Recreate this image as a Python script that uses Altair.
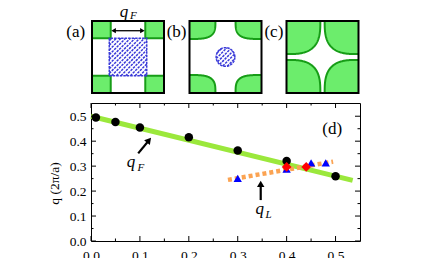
import altair as alt
import numpy as np
import pandas as pd

# ---------------- panel (d) data ----------------
x_circle = [0.01, 0.05, 0.10, 0.20, 0.30, 0.40, 0.50]
q_circle = [0.495, 0.477, 0.455, 0.416, 0.363, 0.321, 0.259]
x_triangle = [0.30, 0.40, 0.45, 0.48]
q_triangle = [0.251, 0.288, 0.313, 0.313]
x_diamond = [0.40, 0.44]
q_diamond = [0.297, 0.297]
x_qF_line = [0.0, 0.535]
q_qF_line = [0.500, 0.243]
x_qL_line = [0.28, 0.495]
q_qL_line = [0.245, 0.318]
major_ticks = [0.0, 0.1, 0.2, 0.3, 0.4, 0.5]
minor_ticks = [0.05, 0.15, 0.25, 0.35, 0.45]

# ---------------- insets (a)-(c): Fermi-surface sketch parameters ----------------
panel_labels = ["(a)", "(b)", "(c)"]
corner_half_x = [0.52, 0.72, 0.94]
corner_half_y = [0.48, 0.50, 0.92]
corner_power = [None, 3.5, 3.0]          # None -> square pockets
pocket_shape = ["square", "circle", None]
pocket_size = [0.52, 0.26, 0.0]

SERIF = "Liberation Serif, Times New Roman, serif"
GREEN_FILL = "#6ced6c"
GREEN_EDGE = "#179d17"
HATCH = "#3a3ad8"
GREEN_LINE = "#9be83c"
ORANGE = "#fba352"

W, H = 269, 138          # main plot area
PX = 36.0                # pixels per k-unit in insets
TOP_H = 72
centers = [37 / PX, 134.5 / PX, 231.5 / PX]
label_dx = [-1.45, -1.36, -1.35]

# ----- build inset geometry -----
area_rows, edge_rows, hatch_rows, frame_rows, lab_rows = [], [], [], [], []
for i in range(3):
    cx = centers[i]
    a, b, p = corner_half_x[i], corner_half_y[i], corner_power[i]
    for sx in (-1, 1):
        for sy in (-1, 1):
            cid = f"{i}_{sx}_{sy}"
            if p is None:
                us = np.array([0.0, a]); vs = np.array([b, b])
                edge = [(a, 0.0), (a, b), (0.0, b)]
            else:
                t = np.linspace(0, np.pi / 2, 70)
                us = a * np.cos(t) ** (2 / p)
                vs = b * np.sin(t) ** (2 / p)
                edge = list(zip(us, vs))
            for u, v in zip(us, vs):
                area_rows.append({"cid": cid, "x": cx + sx * (1 - u),
                                  "y": sy * (1 - v), "y2": sy * 1.0})
            for k, (u, v) in enumerate(edge):
                edge_rows.append({"cid": cid, "k": k, "x": cx + sx * (1 - u),
                                  "y": sy * (1 - v)})
    frame_rows.append({"x": cx - 1, "x2": cx + 1, "y": -1.0, "y2": 1.0})
    lab_rows.append({"x": cx + label_dx[i], "y": 0.7, "label": panel_labels[i]})
    # hatched pockets
    shape, s = pocket_shape[i], pocket_size[i]
    step = 0.13
    if shape == "square":
        for j, c in enumerate(np.arange(-2 * s + step / 2, 2 * s, step)):
            x1 = max(-s, -s - c); x2 = min(s, s - c)
            hatch_rows.append({"hid": f"{i}h{j}", "k": 0, "x": cx + x1, "y": x1 + c})
            hatch_rows.append({"hid": f"{i}h{j}", "k": 1, "x": cx + x2, "y": x2 + c})
        for k, (px_, py_) in enumerate([(-s, -s), (s, -s), (s, s), (-s, s), (-s, -s)]):
            hatch_rows.append({"hid": f"{i}o", "k": k, "x": cx + px_, "y": py_})
    elif shape == "circle":
        lim = s * np.sqrt(2)
        for j, c in enumerate(np.arange(-lim + step / 2, lim, step)):
            d = np.sqrt(max(2 * s * s - c * c, 0))
            for k, xx in enumerate([(-c - d) / 2, (-c + d) / 2]):
                hatch_rows.append({"hid": f"{i}h{j}", "k": k, "x": cx + xx, "y": xx + c})
        for k, th in enumerate(np.linspace(0, 2 * np.pi, 40)):
            hatch_rows.append({"hid": f"{i}o", "k": k, "x": cx + s * np.cos(th), "y": s * np.sin(th)})

area_df = pd.DataFrame(area_rows)
edge_df = pd.DataFrame(edge_rows)
hatch_df = pd.DataFrame(hatch_rows)
frame_df = pd.DataFrame(frame_rows)
lab_df = pd.DataFrame(lab_rows)

c0 = centers[0]
arrow_df = pd.DataFrame({"x": [c0 - 0.40, c0 + 0.40], "y": [0.73, 0.73]})
head_df = pd.DataFrame({"x": [c0 - 0.40, c0 + 0.40], "y": [0.73, 0.73],
                        "shape": ["triangle-left", "triangle-right"]})
qtop_df = pd.DataFrame({"x": [c0 - 0.11], "y": [1.25], "label": ["q"]})
ftop_df = pd.DataFrame({"x": [c0 + 0.15], "y": [1.13], "label": ["F"]})

xt = alt.X("x:Q", scale=alt.Scale(domain=[0, W / PX], nice=False, zero=False), axis=None)
yt = alt.Y("y:Q", scale=alt.Scale(domain=[-1, 1], nice=False, zero=False), axis=None)

top = alt.layer(
    alt.Chart(area_df).mark_area(color=GREEN_FILL, opacity=1).encode(
        x=xt, y=yt, y2="y2:Q", detail="cid:N"),
    alt.Chart(edge_df).mark_line(color=GREEN_EDGE, strokeWidth=2).encode(
        x=xt, y=yt, detail="cid:N", order="k:Q"),
    alt.Chart(hatch_df).mark_line(color=HATCH, strokeWidth=1.5, strokeDash=[2.5, 1]).encode(
        x=xt, y=yt, detail="hid:N", order="k:Q"),
    alt.Chart(frame_df).mark_rect(fillOpacity=0, stroke="black", strokeWidth=2).encode(
        x=xt, x2="x2:Q", y=yt, y2="y2:Q"),
    alt.Chart(arrow_df).mark_line(color="black", strokeWidth=1.3).encode(x=xt, y=yt),
    alt.Chart(head_df).mark_point(filled=True, color="black", size=28, opacity=1).encode(
        x=xt, y=yt, shape=alt.Shape("shape:N", scale=None)),
    alt.Chart(lab_df).mark_text(font=SERIF, fontSize=17, color="black").encode(
        x=xt, y=yt, text="label:N"),
    alt.Chart(qtop_df).mark_text(font=SERIF, fontSize=17, fontStyle="italic", color="black").encode(
        x=xt, y=yt, text="label:N"),
    alt.Chart(ftop_df).mark_text(font=SERIF, fontSize=11, fontStyle="italic", color="black").encode(
        x=xt, y=yt, text="label:N"),
).properties(width=W, height=TOP_H)

# ---------------- main panel ----------------
axis_common = dict(grid=False, ticks=False, tickSize=0, domain=False, labelFlush=False,
                   labelFont=SERIF, labelFontSize=13.5, labelColor="black", values=major_ticks,
                   format=".1f")
xm_scale = alt.Scale(domain=[0, 0.55], nice=False, zero=False)
ym_scale = alt.Scale(domain=[0, 0.553], nice=False, zero=False)
x_axis = alt.Axis(title=None, labelPadding=7, **axis_common)
y_axis = alt.Axis(title="q (2π/a)", titleFont=SERIF, titleFontSize=13.5, titleFontWeight="normal",
                  titleColor="black", titleX=-30, titleY=80, titleAngle=270,
                  titleAlign="center", titleBaseline="bottom", labelPadding=5, **axis_common)


def X(f):
    return alt.X(f"{f}:Q", scale=xm_scale, axis=x_axis)


def Y(f):
    return alt.Y(f"{f}:Q", scale=ym_scale, axis=y_axis)


fitF = pd.DataFrame({"x": x_qF_line, "q": q_qF_line})
fitL = pd.DataFrame({"x": x_qL_line, "q": q_qL_line})
circ = pd.DataFrame({"x": x_circle, "q": q_circle})
tri = pd.DataFrame({"x": x_triangle, "q": q_triangle})
dia = pd.DataFrame({"x": x_diamond, "q": q_diamond})
majors = pd.DataFrame({"t": major_ticks})
minors = pd.DataFrame({"t": minor_ticks})

arrF = pd.DataFrame({"x": [0.0965, 0.1186], "q": [0.351, 0.404]})
arrF_head = pd.DataFrame({"x": [0.1186], "q": [0.404]})
arrL = pd.DataFrame({"x": [0.347, 0.347], "q": [0.164, 0.229]})
arrL_head = pd.DataFrame({"x": [0.347], "q": [0.229]})
q_lab = pd.DataFrame({"x": [0.0816, 0.345], "q": [0.318, 0.128], "label": ["q", "q"]})
sub_lab = pd.DataFrame({"x": [0.102, 0.363], "q": [0.293, 0.106], "label": ["F", "L"]})
d_lab = pd.DataFrame({"x": [0.493], "q": [0.447], "label": ["(d)"]})

layers = [
    alt.Chart(fitF).mark_line(color=GREEN_LINE, strokeWidth=5).encode(x=X("x"), y=Y("q")),
    alt.Chart(fitL).mark_line(color=ORANGE, strokeWidth=4.5, strokeDash=[4, 3]).encode(x=X("x"), y=Y("q")),
    alt.Chart(circ).mark_point(shape="circle", filled=True, color="black", size=72, opacity=1).encode(x=X("x"), y=Y("q")),
    alt.Chart(tri).mark_point(shape="triangle-up", filled=True, color="#0000ff", size=70, opacity=1).encode(x=X("x"), y=Y("q")),
    alt.Chart(dia).mark_point(shape="diamond", filled=True, color="#ff0000", size=95, opacity=1).encode(x=X("x"), y=Y("q")),
    alt.Chart(arrF).mark_line(color="black", strokeWidth=2.2).encode(x=X("x"), y=Y("q")),
    alt.Chart(arrF_head).mark_point(shape="triangle-up", filled=True, color="black", size=55, angle=39, opacity=1).encode(x=X("x"), y=Y("q")),
    alt.Chart(arrL).mark_line(color="black", strokeWidth=2.2).encode(x=X("x"), y=Y("q")),
    alt.Chart(arrL_head).mark_point(shape="triangle-up", filled=True, color="black", size=55, opacity=1).encode(x=X("x"), y=Y("q")),
    alt.Chart(q_lab).mark_text(font=SERIF, fontSize=17, fontStyle="italic", color="black").encode(x=X("x"), y=Y("q"), text="label:N"),
    alt.Chart(sub_lab).mark_text(font=SERIF, fontSize=11, fontStyle="italic", color="black").encode(x=X("x"), y=Y("q"), text="label:N"),
    alt.Chart(d_lab).mark_text(font=SERIF, fontSize=17, color="black").encode(x=X("x"), y=Y("q"), text="label:N"),
]
for df, ln in ((majors, 5), (minors, 2.5)):
    layers += [
        alt.Chart(df).mark_rule(color="black", strokeWidth=1).encode(x=X("t"), y=alt.value(H), y2=alt.value(H - ln)),
        alt.Chart(df).mark_rule(color="black", strokeWidth=1).encode(x=X("t"), y=alt.value(0), y2=alt.value(ln)),
        alt.Chart(df).mark_rule(color="black", strokeWidth=1).encode(y=Y("t"), x=alt.value(0), x2=alt.value(ln)),
        alt.Chart(df).mark_rule(color="black", strokeWidth=1).encode(y=Y("t"), x=alt.value(W), x2=alt.value(W - ln)),
    ]

main = alt.layer(*layers).properties(
    width=W, height=H, view=alt.ViewBackground(stroke="black", strokeWidth=1))

chart = alt.vconcat(top, main, spacing=10, bounds="flush").properties(
    padding={"left": 38, "top": -6, "right": 5, "bottom": 5}
).configure_view(stroke="transparent")

chart.save("out.html", embed_options={"renderer": "svg", "actions": False})
